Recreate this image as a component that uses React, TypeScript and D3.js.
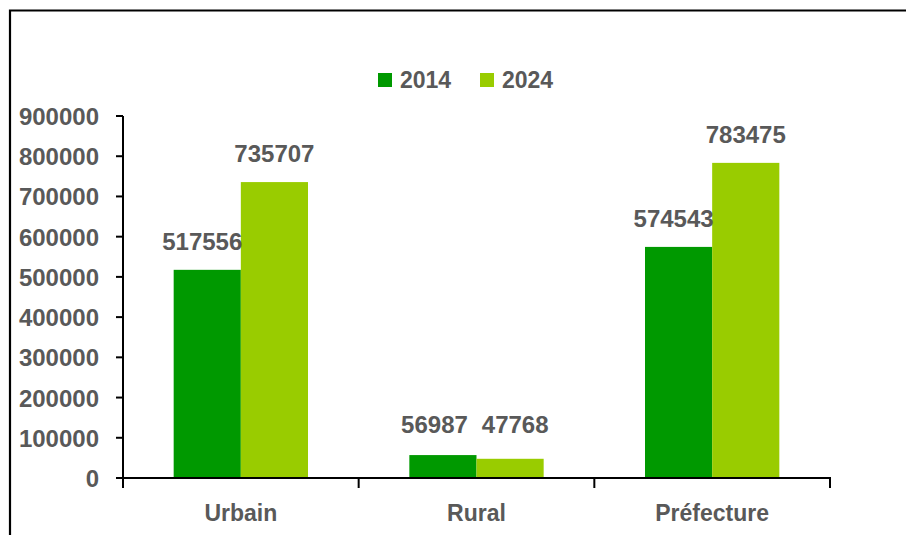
import React from "react";
import * as d3 from "d3";

const categories = ["Urbain", "Rural", "Préfecture"];
const seriesNames = ["2014", "2024"];
const values2014 = [517556, 56987, 574543];
const values2024 = [735707, 47768, 783475];
const yTicks = [0, 100000, 200000, 300000, 400000, 500000, 600000, 700000, 800000, 900000];
const colors = ["#009900", "#99CC00"];

const W = 906;
const H = 535;
const FONT = "'Liberation Sans', Arial, sans-serif";
const TXT = "#595959";
const LABEL_SIZE = 24;
const DIGIT_W = LABEL_SIZE * 0.556;

export default function App() {
  const left = 123;
  const right = 830;
  const top = 116;
  const bottom = 478;

  const y = d3.scaleLinear().domain([0, 900000]).range([bottom, top]);
  const x0 = d3
    .scaleBand<string>()
    .domain(categories)
    .range([left, right])
    .paddingInner(0.43)
    .paddingOuter(0.215);
  const x1 = d3.scaleBand<string>().domain(seriesNames).range([0, x0.bandwidth()]).padding(0);

  const series = [values2014, values2024];
  const step = x0.step();
  const boundaries = d3.range(categories.length + 1).map((i) => left + i * step);

  // label layout: centred over bars, nudged apart if they would collide
  const labels: { key: string; x: number; y: number; text: string }[] = [];
  categories.forEach((c, ci) => {
    const items = seriesNames.map((s, si) => {
      const v = series[si][ci];
      return {
        key: c + s,
        text: String(v),
        x: (x0(c) as number) + (x1(s) as number) + x1.bandwidth() / 2 - (si === 0 ? 5 : 0),
        y: y(v) - 20,
        w: String(v).length * DIGIT_W,
      };
    });
    const [a, b] = items;
    const minSep = (a.w + b.w) / 2 + 14;
    const vertOverlap = Math.abs(a.y - b.y) < LABEL_SIZE;
    if (vertOverlap && b.x - a.x < minSep) {
      const extra = minSep - (b.x - a.x);
      a.x -= extra * 0.4;
      b.x += extra * 0.6;
      const yy = Math.min(a.y, b.y) - 2;
      a.y = yy;
      b.y = yy;
    }
    items.forEach((it) => labels.push({ key: it.key, x: it.x, y: it.y, text: it.text }));
  });

  return (
    <svg
      width={W}
      height={H}
      style={{ position: "absolute", left: 0, top: 0, display: "block", background: "#fff" }}
      fontFamily={FONT}
    >
      <rect x={0} y={0} width={W} height={H} fill="#fff" />
      {/* frame */}
      <path d={`M10,${H} L10,10.5 L${W},10.5`} fill="none" stroke="#000" strokeWidth={2.2} />

      {/* legend */}
      {seriesNames.map((s, i) => {
        const lx = 378 + i * 102;
        return (
          <g key={s}>
            <rect x={lx} y={73} width={14} height={14} fill={colors[i]} />
            <text x={lx + 22} y={88} fontSize={23} fontWeight="bold" fill={TXT}>
              {s}
            </text>
          </g>
        );
      })}

      {/* bars */}
      {categories.map((c, ci) => (
        <g key={c}>
          {seriesNames.map((s, si) => {
            const v = series[si][ci];
            const bx = (x0(c) as number) + (x1(s) as number);
            return (
              <rect
                key={s}
                x={bx}
                y={y(v)}
                width={x1.bandwidth()}
                height={y(0) - y(v)}
                fill={colors[si]}
              />
            );
          })}
        </g>
      ))}

      {/* data labels */}
      {labels.map((l) => (
        <text
          key={l.key}
          x={l.x}
          y={l.y}
          textAnchor="middle"
          fontSize={LABEL_SIZE}
          fontWeight="bold"
          fill={TXT}
        >
          {l.text}
        </text>
      ))}

      {/* y axis */}
      <line x1={left} x2={left} y1={top} y2={bottom} stroke="#000" strokeWidth={2} />
      {yTicks.map((t) => (
        <g key={t}>
          <line x1={left - 7} x2={left} y1={y(t)} y2={y(t)} stroke="#000" strokeWidth={2} />
          <text
            x={99}
            y={y(t) + 9}
            textAnchor="end"
            fontSize={24}
            fontWeight="bold"
            fill={TXT}
          >
            {t}
          </text>
        </g>
      ))}

      {/* x axis */}
      <line x1={left - 7} x2={right + 1} y1={bottom} y2={bottom} stroke="#000" strokeWidth={2} />
      {boundaries.map((bx, i) => (
        <line key={i} x1={bx} x2={bx} y1={bottom} y2={bottom + 10} stroke="#000" strokeWidth={2} />
      ))}
      {categories.map((c) => (
        <text
          key={c}
          x={(x0(c) as number) + x0.bandwidth() / 2}
          y={521}
          textAnchor="middle"
          fontSize={23}
          fontWeight="bold"
          fill={TXT}
        >
          {c}
        </text>
      ))}
    </svg>
  );
}
